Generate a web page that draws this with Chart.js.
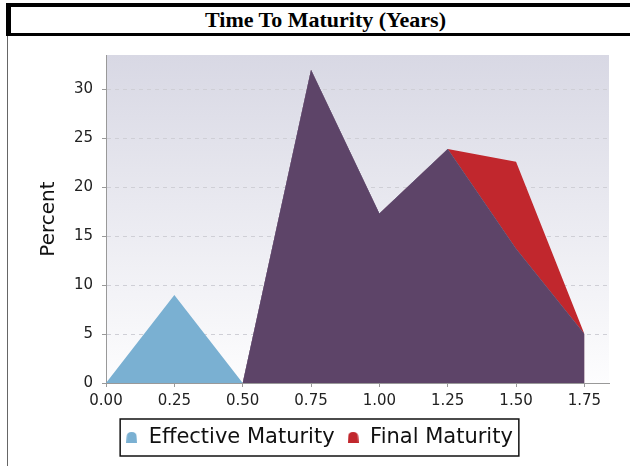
<!DOCTYPE html>
<html>
<head>
<meta charset="utf-8">
<script src="https://cdn.jsdelivr.net/npm/chart.js@4"></script>
<style>
  body { margin: 0; background: #fff; }
  #wrap { position: relative; width: 630px; height: 466px; overflow: hidden; }
  #chart { position: absolute; left: 0; top: 0; }
  #title {
    position: absolute; left: 6px; top: 3px; width: 634px; height: 33px;
    box-sizing: border-box; border-top: 4px solid #000; border-left: 5px solid #000;
    border-bottom: 3px solid #000; background: #fff;
    font: bold 22px "Liberation Serif", serif; text-align: center; line-height: 25px;
  }
  #edge { position: absolute; left: 7px; top: 36px; width: 1px; height: 430px; background: #666; }
</style>
</head>
<body>
<div id="wrap">
  <canvas id="chart" width="630" height="466"></canvas>
  <div id="title">Time To Maturity (Years)</div>
  <div id="edge"></div>
</div>
<script>
const maturities = [0, 0.25, 0.5, 0.75, 1.0, 1.25, 1.5, 1.75];
const effectiveMaturity = [0, 9, 0, 32, 17.3, 23.9, 13.7, 5];
const finalMaturity = [0, 0, 0, 32, 17.3, 23.9, 22.6, 5];
// part where both series cover each other, drawn dark purple in the picture
const overlapMaturity = [0, 0, 0, 32, 17.3, 23.9, 13.7, 5];

const blue = '#7ab0d2';
const red = '#c1272d';
const purple = '#5d4468';

function points(values) {
    return maturities.map((m, i) => ({ x: m, y: values[i] }));
}

function legendIcon(color) {
    const c = document.createElement('canvas');
    c.width = 11;
    c.height = 11;
    const g = c.getContext('2d');
    g.fillStyle = color;
    g.beginPath();
    g.moveTo(0, 11);
    g.lineTo(0.5, 5);
    g.quadraticCurveTo(0.5, 0, 5.5, 0);
    g.quadraticCurveTo(10.5, 0, 10.5, 5);
    g.lineTo(11, 11);
    g.closePath();
    g.fill();
    return c;
}

const plotBackground = {
    id: 'plotBackground',
    beforeDraw(chart) {
        const { ctx, chartArea: a } = chart;
        const grad = ctx.createLinearGradient(0, a.top, 0, a.bottom);
        grad.addColorStop(0, '#d8d8e4');
        grad.addColorStop(1, '#fdfdfe');
        ctx.save();
        ctx.fillStyle = grad;
        ctx.fillRect(a.left, a.top, a.right - a.left, a.bottom - a.top);
        ctx.restore();
    }
};

const legendBorder = {
    id: 'legendBorder',
    afterDraw(chart) {
        const boxes = chart.legend.legendHitBoxes;
        if (!boxes || !boxes.length) return;
        const first = boxes[0];
        const last = boxes[boxes.length - 1];
        const { ctx } = chart;
        ctx.save();
        ctx.strokeStyle = '#111';
        ctx.lineWidth = 1.5;
        ctx.strokeRect(first.left - 5, first.top - 8, last.left + last.width + 11 - first.left, first.height + 16);
        ctx.restore();
    }
};

const tickFont = { family: 'DejaVu Sans', size: 15 };

new Chart(document.getElementById('chart'), {
    type: 'line',
    data: {
        datasets: [
            { label: 'overlap', data: points(overlapMaturity), backgroundColor: purple },
            { label: 'Effective Maturity', data: points(effectiveMaturity), backgroundColor: blue },
            { label: 'Final Maturity', data: points(finalMaturity), backgroundColor: red }
        ].map(d => Object.assign(d, { fill: 'origin', borderWidth: 0, pointRadius: 0, tension: 0 }))
    },
    options: {
        responsive: false,
        animation: false,
        layout: { padding: { left: 29, right: 21, top: 55, bottom: 8 } },
        plugins: {
            tooltip: { enabled: false },
            legend: {
                position: 'bottom',
                labels: {
                    usePointStyle: true,
                    pointStyleWidth: 13,
                    boxWidth: 13,
                    padding: 12,
                    color: '#111',
                    font: { family: 'DejaVu Sans', size: 21 },
                    generateLabels(chart) {
                        return chart.data.datasets.slice(1).map((d, i) => ({
                            text: d.label,
                            pointStyle: legendIcon(d.backgroundColor),
                            fillStyle: d.backgroundColor,
                            strokeStyle: d.backgroundColor,
                            lineWidth: 0,
                            fontColor: '#111',
                            datasetIndex: i + 1
                        }));
                    }
                }
            }
        },
        scales: {
            x: {
                type: 'linear',
                min: 0,
                max: 1.84,
                afterFit: s => { s.height = 32; },
                ticks: {
                    stepSize: 0.25,
                    includeBounds: false,
                    padding: 5,
                    maxRotation: 0,
                    color: '#222',
                    font: tickFont,
                    callback: v => v.toFixed(2)
                },
                grid: { drawOnChartArea: false, tickLength: 4, tickColor: '#999', tickBorderDash: [] },
                border: { color: '#999', width: 1 }
            },
            y: {
                min: 0,
                max: 33.5,
                afterFit: s => { s.width = 77; },
                title: {
                    display: true,
                    text: 'Percent',
                    color: '#111',
                    font: { family: 'DejaVu Sans', size: 20 },
                    padding: { top: 8, bottom: 0 }
                },
                ticks: {
                    stepSize: 5,
                    includeBounds: false,
                    padding: 9,
                    color: '#222',
                    font: tickFont
                },
                grid: { color: '#cfcfd6', tickLength: 4, tickColor: '#999', tickBorderDash: [] },
                border: { color: '#999', width: 1, dash: [4, 4] }
            }
        }
    },
    plugins: [plotBackground, legendBorder]
});
</script>
</body>
</html>
